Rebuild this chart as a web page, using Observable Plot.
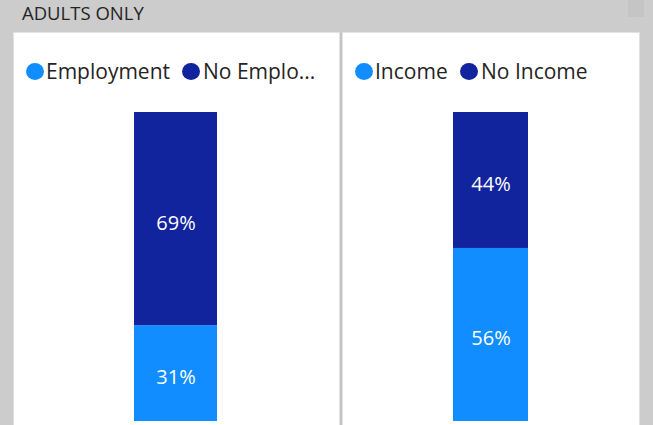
<!DOCTYPE html>
<html>
<head>
<meta charset="utf-8">
<script src="https://cdn.jsdelivr.net/npm/d3@7"></script>
<script src="https://cdn.jsdelivr.net/npm/@observablehq/plot@0.6"></script>
<style>
  html, body { margin: 0; padding: 0; }
  body { width: 653px; height: 425px; overflow: hidden; background: #cccccc; position: relative; font-family: "Open Sans", "Noto Sans", sans-serif; color: #252423; }
  #title { position: absolute; left: 22px; top: 0px; font-size: 18.5px; letter-spacing: 0px; color: #252423; }
  .corner { position: absolute; left: 628px; top: 0; width: 16px; height: 17px; background: #c5c5c5; }
  .panel { position: absolute; top: 32px; height: 420px; background: #ffffff; border: 1px solid #e2e2e2; box-sizing: border-box; }
  .divider { position: absolute; top: 32px; left: 340px; width: 2px; height: 400px; background: #c4c4c4; }
  .item { position: absolute; top: 57px; height: 30px; font-size: 21px; line-height: 28px; white-space: nowrap; color: #252423; }
  .dot { position: absolute; width: 18px; height: 17px; border-radius: 50%; top: 63px; }
  .chart { position: absolute; top: 95px; }
</style>
</head>
<body>
<div id="title">ADULTS ONLY</div>
<div class="corner"></div>
<div class="panel" style="left:13px;width:327px"></div>
<div class="panel" style="left:342px;width:298px"></div>
<div class="divider"></div>
<div id="root"></div>
<script>
// data
const employmentCategories = ["Employment", "No Employment"];
const employmentValues = [0.31, 0.69];
const incomeCategories = ["Income", "No Income"];
const incomeValues = [0.56, 0.44];
const seriesColors = ["#118DFF", "#12239E"];

const root = document.getElementById("root");
const ctx = document.createElement("canvas").getContext("2d");
ctx.font = "21px 'Open Sans'";
function fit(label, maxW) {
  if (!maxW || ctx.measureText(label).width <= maxW) return label;
  let s = label;
  while (s.length > 1 && ctx.measureText(s + "...").width > maxW) s = s.slice(0, -1);
  return s.trimEnd() + "...";
}

function panel(cfg) {
  const {categories, values, left, width, marginLeft, marginRight, legendPos} = cfg;
  const data = categories.map((c, i) => ({cat: c, value: values[i], group: "all"}));
  // legend
  categories.forEach((c, i) => {
    const dot = document.createElement("div");
    dot.className = "dot";
    dot.style.left = legendPos[i].dot + "px";
    dot.style.background = seriesColors[i];
    root.appendChild(dot);
    const lab = document.createElement("div");
    lab.className = "item";
    lab.style.left = legendPos[i].text + "px";
    lab.textContent = fit(c, legendPos[i].max);
    root.appendChild(lab);
  });
  const chart = Plot.plot({
    width,
    height: 330,
    marginTop: 17,
    marginBottom: 4,
    marginLeft,
    marginRight,
    style: {background: "transparent", fontFamily: "'Open Sans', sans-serif", overflow: "visible"},
    x: {domain: ["all"], padding: 0, axis: null},
    y: {domain: [0, 1], axis: null},
    color: {domain: categories, range: seriesColors},
    marks: [
      Plot.barY(data, Plot.stackY({x: "group", y: "value", fill: "cat", order: null})),
      Plot.text(data, Plot.stackY({x: "group", y: "value", z: "cat", order: null,
        text: d => Math.round(d.value * 100) + "%",
        fill: "white", fontSize: 20, dy: 4}))
    ]
  });
  const wrap = document.createElement("div");
  wrap.className = "chart";
  wrap.style.left = left + "px";
  wrap.appendChild(chart);
  root.appendChild(wrap);
}

panel({
  categories: employmentCategories, values: employmentValues,
  left: 14, width: 326, marginLeft: 120, marginRight: 123,
  legendPos: [{dot: 26, text: 46}, {dot: 182, text: 203, max: 116}]
});
panel({
  categories: incomeCategories, values: incomeValues,
  left: 343, width: 296, marginLeft: 110, marginRight: 111,
  legendPos: [{dot: 355, text: 375}, {dot: 460, text: 481}]
});
</script>
</body>
</html>
